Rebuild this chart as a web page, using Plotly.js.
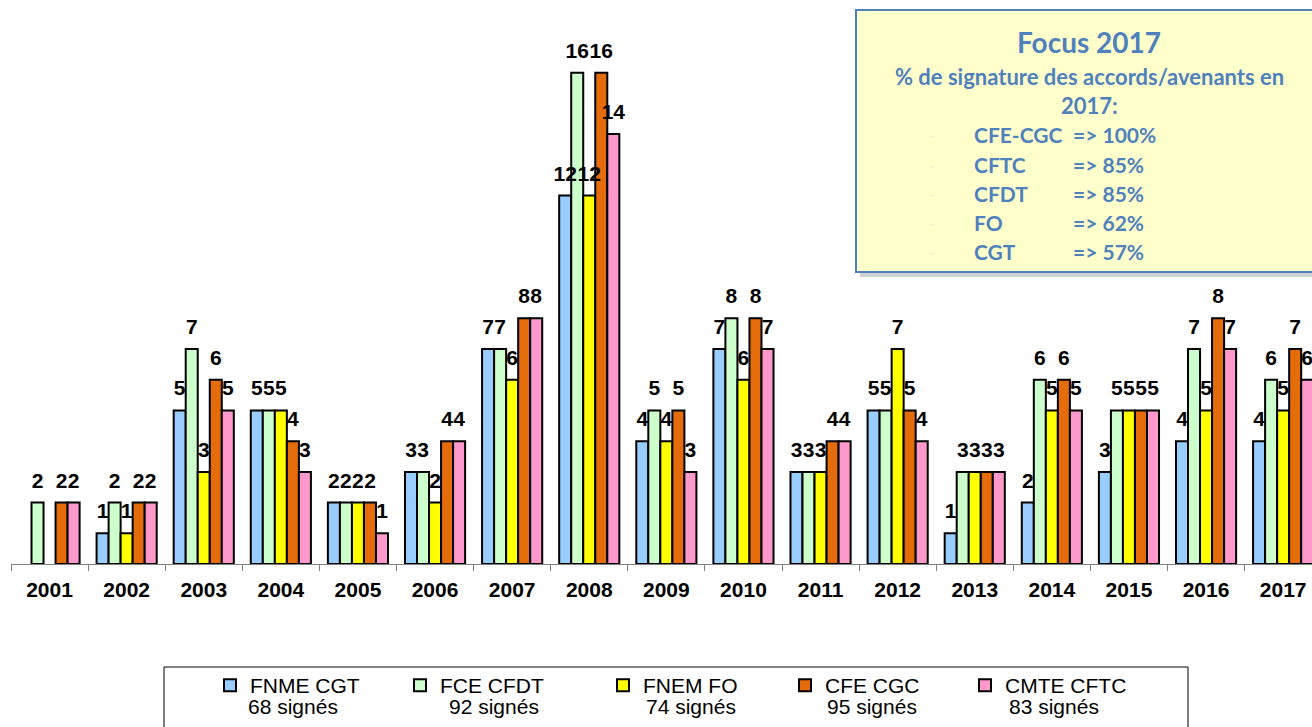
<!DOCTYPE html>
<html>
<head>
<meta charset="utf-8">
<script src="https://cdn.plot.ly/plotly-3.0.1.min.js"></script>
<style>
html,body{margin:0;padding:0;background:#fff;}
#chart{width:1312px;height:727px;}
</style>
</head>
<body>
<div id="chart"></div>
<script>
// ---- data ----
const years = ['2001','2002','2003','2004','2005','2006','2007','2008','2009','2010','2011','2012','2013','2014','2015','2016','2017'];
const seriesNames = ['FNME CGT','FCE CFDT','FNEM FO','CFE CGC','CMTE CFTC'];
const fnmeCgt  = [0,1,5,5,2,3,7,12,4,7,3,5,1,2,3,4,4];
const fceCfdt  = [2,2,7,5,2,3,7,16,5,8,3,5,3,6,5,7,6];
const fnemFo   = [0,1,3,5,2,2,6,12,4,6,3,7,3,5,5,5,5];
const cfeCgc   = [2,2,6,4,2,4,8,16,5,8,4,5,3,6,5,8,7];
const cmteCftc = [2,2,5,3,1,4,8,14,3,7,4,4,3,5,5,7,6];
const signedSuffix = 'signés';
const focusTitle = 'Focus 2017';
const focusSubtitle = ['% de signature des accords/avenants en', '2017:'];
const focusUnions = ['CFE-CGC','CFTC','CFDT','FO','CGT'];
const focusPct = ['100%','85%','85%','62%','57%'];

// ---- styles / geometry ----
const seriesValues = [fnmeCgt, fceCfdt, fnemFo, cfeCgc, cmteCftc];
const colors = ['#99CCFF','#CCFFCC','#FFFF00','#E46C0A','#FF99CC'];
const W = 1312, H = 727, L = 11, T = 42, B = 163;
const px = X => (X - L) / (W - L);
const py = Y => (H - B - Y) / (H - T - B);
const catW = 77.1;
const arial = 'Liberation Sans, Arial, sans-serif';
const calib = 'Lato, Open Sans, sans-serif';
const blue = '#4F81BD';

const legendTextStart = [250, 440, 643, 825, 1005];
const line2Start = [246, 447, 644, 825, 1007];

const traces = [];
seriesValues.forEach((vals, i) => {
  traces.push({
    type: 'bar', x: years, y: vals.map(v => v === 0 ? null : v), name: seriesNames[i],
    legend: i === 0 ? 'legend' : 'legend' + (i + 1),
    marker: {color: colors[i], line: {color: '#000', width: 2}},
    hoverinfo: 'skip'
  });
});
seriesValues.forEach((vals, i) => {
  traces.push({
    type: 'scatter', mode: 'markers+text', orientation: 'v',
    x: years, y: vals,
    text: vals.map(v => v ? String(v) : ''),
    textposition: 'top center',
    textfont: {family: arial, size: 21, color: '#000', weight: 'bold'},
    marker: {size: 14, opacity: 0},
    showlegend: false, cliponaxis: false, hoverinfo: 'skip'
  });
});

const layout = {
  width: W, height: H,
  margin: {l: L, r: 0, t: T, b: B, pad: 0},
  paper_bgcolor: '#fff', plot_bgcolor: 'rgba(0,0,0,0)',
  barmode: 'group', bargap: 0.22, bargroupgap: 0,
  scattermode: 'group', scattergap: 0.22,
  showlegend: true,
  xaxis: {
    type: 'category', range: [-0.5, (W - L) / catW - 0.5],
    showline: true, linecolor: '#808080', linewidth: 1,
    ticks: 'outside', tickson: 'boundaries', ticklen: 6, tickcolor: '#808080',
    ticklabelstandoff: 7,
    tickfont: {family: arial, size: 21, color: '#000', weight: 'bold'},
    showgrid: false, zeroline: false, fixedrange: true
  },
  yaxis: {range: [0, 17], visible: false, fixedrange: true},
  shapes: [
    {type: 'rect', xref: 'paper', yref: 'paper', x0: px(164), x1: px(1188), y0: py(760), y1: py(667),
     line: {color: '#000', width: 1}, fillcolor: 'rgba(0,0,0,0)', layer: 'below'},
    {type: 'rect', xref: 'paper', yref: 'paper', x0: px(860), x1: px(1340), y0: py(277), y1: py(14),
     line: {width: 0}, fillcolor: 'rgba(0,0,0,0.18)', layer: 'above'},
    {type: 'rect', xref: 'paper', yref: 'paper', x0: px(856), x1: px(1340), y0: py(272), y1: py(10),
     line: {color: blue, width: 2}, fillcolor: '#FFFFCC', layer: 'above'}
  ],
  annotations: []
};

// legends (one per series so each entry sits where the reference puts it)
seriesNames.forEach((n, i) => {
  const key = i === 0 ? 'legend' : 'legend' + (i + 1);
  layout[key] = {
    orientation: 'h', x: px(legendTextStart[i] - 40), xanchor: 'left',
    y: py(665), yanchor: 'top', bgcolor: 'rgba(0,0,0,0)', borderwidth: 0,
    font: {family: arial, size: 21, color: '#000'}
  };
  const total = seriesValues[i].reduce((a, b) => a + b, 0);
  layout.annotations.push({
    xref: 'paper', yref: 'paper', x: px(line2Start[i]), y: py(706.5),
    xanchor: 'left', yanchor: 'middle', showarrow: false,
    text: total + ' ' + signedSuffix,
    font: {family: arial, size: 21, color: '#000'}
  });
});

// focus box text
layout.annotations.push({
  xref: 'paper', yref: 'paper', x: px(1089), y: py(42), xanchor: 'center', yanchor: 'middle',
  showarrow: false, text: focusTitle, font: {family: calib, size: 28, color: blue, weight: 'bold'}
});
focusSubtitle.forEach((s, k) => {
  layout.annotations.push({
    xref: 'paper', yref: 'paper', x: px(1089), y: py(76 + k * 29), xanchor: 'center', yanchor: 'middle',
    showarrow: false, text: s, font: {family: calib, size: 22, color: blue, weight: 'bold'}
  });
});
focusUnions.forEach((u, k) => {
  const yy = py(135 + k * 29);
  layout.annotations.push({
    xref: 'paper', yref: 'paper', x: px(926), y: yy, xanchor: 'left', yanchor: 'middle',
    showarrow: false, text: '-', font: {family: calib, size: 19, color: '#EFEFCB'}
  });
  layout.annotations.push({
    xref: 'paper', yref: 'paper', x: px(972), y: yy, xanchor: 'left', yanchor: 'middle',
    showarrow: false, text: u, font: {family: calib, size: 21, color: blue, weight: 'bold'}
  });
  layout.annotations.push({
    xref: 'paper', yref: 'paper', x: px(1071), y: yy, xanchor: 'left', yanchor: 'middle',
    showarrow: false, text: '=> ' + focusPct[k], font: {family: calib, size: 21, color: blue, weight: 'bold'}
  });
});

Plotly.newPlot('chart', traces, layout, {displayModeBar: false, staticPlot: true});
</script>
</body>
</html>
